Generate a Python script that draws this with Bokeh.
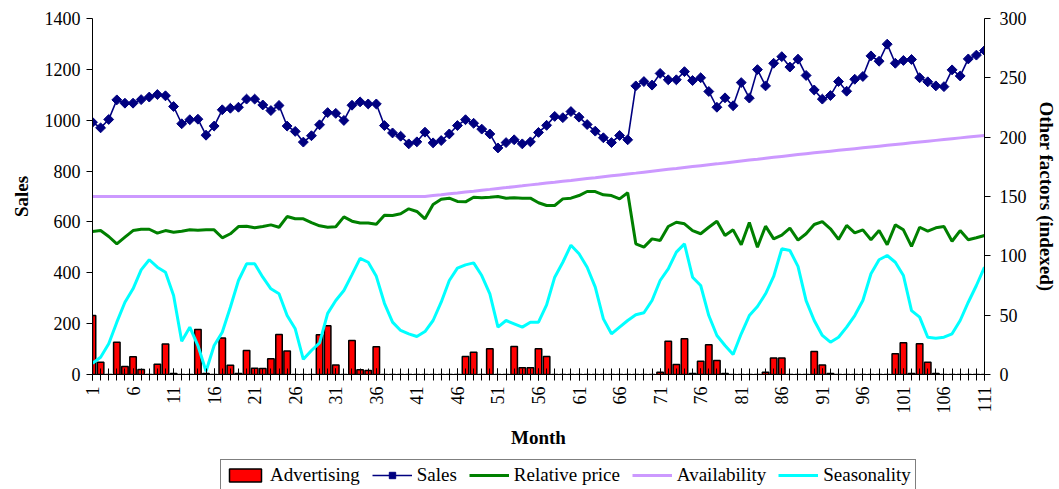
import numpy as np
from bokeh.plotting import figure
from bokeh.layouts import column
from bokeh.models import Range1d, LinearAxis, FixedTicker, Legend, LegendItem
from bokeh.embed import file_html
from bokeh.resources import INLINE

months = list(range(1, 112))

sales = [992, 970, 1003, 1080, 1067, 1067, 1081, 1091, 1101, 1096,
         1054, 986, 1002, 1004, 941, 977, 1041, 1047, 1051, 1083,
         1083, 1060, 1038, 1058, 977, 956, 914, 939, 982, 1030,
         1027, 999, 1059, 1072, 1064, 1064, 979, 950, 937, 907,
         915, 953, 911, 920, 946, 979, 1002, 988, 965, 946,
         891, 912, 923, 907, 915, 952, 980, 1015, 1010, 1034,
         1012, 983, 957, 931, 912, 940, 923, 1135, 1152, 1138,
         1184, 1159, 1159, 1191, 1156, 1167, 1113, 1051, 1088, 1057,
         1148, 1087, 1199, 1135, 1224, 1250, 1209, 1240, 1176, 1119,
         1083, 1097, 1152, 1114, 1161, 1172, 1253, 1232, 1299, 1224,
         1235, 1239, 1167, 1151, 1135, 1132, 1198, 1174, 1241, 1256,
         1274]

relative_price = [120.5, 121.3, 116.3, 110.1, 115.7, 121.3, 122.4, 122.4, 119.1, 121.3,
                  119.9, 120.8, 121.9, 121.6, 121.9, 121.9, 115.2, 118.6, 124.7, 125.0,
                  123.6, 124.7, 126.1, 124.1, 133.1, 131.2, 131.2, 128.0, 125.3, 124.1,
                  124.5, 132.8, 129.2, 127.6, 127.6, 126.6, 134.3, 134.0, 135.4, 139.6,
                  137.4, 131.2, 143.3, 147.7, 148.6, 145.8, 145.5, 149.4, 148.9, 149.4,
                  150.0, 148.6, 148.9, 148.6, 148.6, 144.7, 142.4, 142.4, 148.0, 148.6,
                  150.8, 154.2, 154.2, 151.4, 150.8, 148.0, 153.1, 110.1, 107.3, 114.3,
                  112.9, 124.7, 128.3, 127.0, 121.3, 118.6, 124.1, 129.2, 117.1, 121.9,
                  109.3, 128.1, 107.3, 125.0, 114.3, 117.4, 123.3, 113.2, 118.6, 126.4,
                  128.9, 122.8, 113.8, 125.6, 119.4, 121.9, 113.5, 121.3, 109.3, 126.1,
                  121.9, 107.9, 124.1, 120.8, 123.6, 124.7, 112.3, 121.3, 113.5, 115.2,
                  117.1]

availability = [150.0] * 42 + [
    150.8, 151.5, 152.3, 153.0, 153.8, 154.5, 155.3, 156.0, 156.8, 157.5,
    158.3, 159.0, 159.8, 160.5, 161.3, 162.0, 162.8, 163.5,
    164.3, 165.1, 165.8, 166.6, 167.4, 168.2, 169.0, 169.7, 170.5, 171.3,
    172.1, 172.9, 173.6, 174.4, 175.2, 176.0, 176.8, 177.5, 178.3, 179.1,
    179.9, 180.7, 181.4, 182.2, 183.0, 183.8, 184.6, 185.4,
    186.1, 186.8, 187.5, 188.2, 188.9, 189.6, 190.3, 191.0, 191.7, 192.4,
    193.1, 193.8, 194.5, 195.2, 195.9, 196.6, 197.3, 198.0, 198.7, 199.4,
    200.1, 200.8, 201.5]

seasonality = [9.5, 14.6, 25.9, 44.1, 60.9, 72.2, 88.2, 96.7, 90.4, 86.2,
               66.6, 28.1, 39.9, 24.4, 2.8, 24.4, 35.6, 56.7, 79.2, 93.3,
               93.3, 82.0, 72.2, 68.0, 49.7, 38.5, 12.8, 20.2, 26.6, 51.5,
               62.4, 70.8, 84.2, 97.9, 94.6, 82.7, 60.0, 44.1, 37.1, 34.3,
               32.0, 36.2, 45.5, 60.9, 79.2, 89.6, 92.4, 94.1, 83.4, 68.0,
               39.9, 45.5, 42.7, 39.9, 44.1, 44.1, 58.7, 82.0, 94.6, 109.0,
               101.7, 90.4, 73.6, 46.9, 34.3, 39.9, 45.5, 50.3, 52.0, 62.4,
               79.2, 89.0, 103.1, 110.1, 82.0, 75.0, 49.7, 32.9, 24.4, 16.9,
               34.3, 49.7, 57.3, 68.0, 82.6, 105.9, 104.5, 91.1, 62.3, 45.5,
               32.9, 27.2, 31.4, 39.9, 49.7, 62.4, 84.9, 96.7, 100.3, 94.6,
               83.4, 53.9, 48.3, 31.4, 30.6, 31.4, 34.3, 45.5, 60.9, 75.0,
               90.4]

advertising = [49.7, 10.4, 0, 27.2, 6.8, 14.9, 4.2, 0, 8.7, 25.6,
               0.8, 0, 0, 37.9, 0.8, 0, 30.8, 7.9, 0.8, 20.2,
               5.2, 5.0, 13.2, 33.7, 19.7, 0, 0, 0, 33.6, 41.0,
               8.1, 0, 28.7, 3.9, 3.4, 23.3, 0, 0, 0, 0,
               0, 0, 0, 0, 0, 0, 15.2, 18.8, 0, 21.6,
               0, 0, 23.6, 5.6, 5.6, 21.6, 15.2, 0, 0, 0,
               0, 0, 0, 0, 0, 0, 0, 0, 0, 0,
               2.0, 28.1, 8.4, 30.1, 0.8, 11.2, 25.0, 11.8, 0.8, 0,
               0, 0, 0, 2.0, 13.8, 13.8, 0, 0, 0, 19.4,
               8.1, 0.8, 0, 0, 0, 0, 0, 0, 0, 17.4,
               26.7, 0.8, 25.9, 10.4, 0.8, 0, 0, 0, 0, 0,
               0]

sales_ticks = [0, 200, 400, 600, 800, 1000, 1200, 1400]
other_ticks = [0, 50, 100, 150, 200, 250, 300]
month_label_ticks = list(range(1, 112, 5))

FONT = "Liberation Serif"

ADV = dict(fill_color="#FF0000", line_color="black", line_width=1.5)
SALES_L = dict(line_color="#000080", line_width=1.6)
SALES_M = dict(marker="square", angle=np.pi / 4, size=7,
               fill_color="#000080", line_color="#000080")
PRICE = dict(line_color="#008000", line_width=3)
AVAIL = dict(line_color="#CC99FF", line_width=3)
SEAS = dict(line_color="#00FFFF", line_width=3)

p = figure(width=1059, height=458, output_backend="svg", toolbar_location=None,
           x_range=Range1d(1, 111), y_range=Range1d(0, 1400),
           min_border_left=92, min_border_right=72, min_border_top=18,
           min_border_bottom=84)
p.extra_y_ranges = {"right": Range1d(0, 300)}
p.outline_line_color = None
p.grid.visible = False
p.background_fill_color = "white"

p.vbar(x=months, top=advertising, bottom=0, width=0.8, y_range_name="right", **ADV)
p.line(months, sales, **SALES_L)
p.scatter(months, sales, **SALES_M)
p.line(months, relative_price, y_range_name="right", **PRICE)
p.line(months, availability, y_range_name="right", **AVAIL)
p.line(months, seasonality, y_range_name="right", **SEAS)

# axes
xa = p.xaxis[0]
xa.ticker = FixedTicker(ticks=month_label_ticks, minor_ticks=months)
xa.major_label_orientation = np.pi / 2
xa.major_tick_in = 6
xa.major_tick_out = 6
xa.minor_tick_in = 6
xa.minor_tick_out = 6
xa.major_label_standoff = 6
xa.axis_label = "Month"
xa.axis_label_standoff = 10

ya = p.yaxis[0]
ya.ticker = FixedTicker(ticks=sales_ticks)
ya.major_tick_in = 0
ya.major_tick_out = 6
ya.minor_tick_in = 0
ya.minor_tick_out = 0
ya.major_label_standoff = 6
ya.axis_label = "Sales"
ya.axis_label_standoff = 10

ra = LinearAxis(y_range_name="right", ticker=FixedTicker(ticks=other_ticks),
                axis_label="Other factors (indexed)")
ra.major_tick_in = 0
ra.major_tick_out = 6
ra.minor_tick_in = 0
ra.minor_tick_out = 0
ra.major_label_standoff = 9
ra.axis_label_standoff = 6
p.add_layout(ra, "right")

for ax in [xa, ya, ra]:
    ax.axis_line_color = "black"
    ax.major_tick_line_color = "black"
    ax.minor_tick_line_color = "black"
    ax.major_label_text_color = "black"
    ax.major_label_text_font = FONT
    ax.major_label_text_font_size = "18px"
    ax.axis_label_text_font = FONT
    ax.axis_label_text_font_size = "19px"
    ax.axis_label_text_font_style = "bold"
    ax.axis_label_text_color = "black"

# legend strip: a small figure under the chart; its series renderers are
# hidden so only the legend (built from them) shows
lf = figure(width=1059, height=31, output_backend="svg", toolbar_location=None,
            x_axis_type=None, y_axis_type=None, x_range=Range1d(1, 111),
            y_range=Range1d(0, 1400), min_border=0)
lf.outline_line_color = None
lf.background_fill_color = "white"
r_adv = lf.vbar(x=months, top=advertising, bottom=0, width=0.8, **ADV)
r_sl = lf.line(months, sales, **SALES_L)
r_sm = lf.scatter(months, sales, **SALES_M)
r_pr = lf.line(months, relative_price, **PRICE)
r_av = lf.line(months, availability, **AVAIL)
r_se = lf.line(months, seasonality, **SEAS)
for r in [r_adv, r_sl, r_sm, r_pr, r_av, r_se]:
    r.visible = False

legend = Legend(items=[
    LegendItem(label="Advertising", renderers=[r_adv]),
    LegendItem(label="Sales", renderers=[r_sl, r_sm]),
    LegendItem(label="Relative price", renderers=[r_pr]),
    LegendItem(label="Availability", renderers=[r_av]),
    LegendItem(label="Seasonality", renderers=[r_se]),
], orientation="horizontal", location=(128, -2), margin=0, padding=4,
    spacing=12, glyph_width=40, glyph_height=16, label_standoff=5,
    label_text_font=FONT, label_text_font_size="19px", label_text_color="black",
    border_line_color="black", border_line_width=1, background_fill_alpha=1,
    click_policy="none")
lf.add_layout(legend)

layout = column(p, lf, spacing=0)
open("out.html", "w").write(file_html(layout, INLINE))
